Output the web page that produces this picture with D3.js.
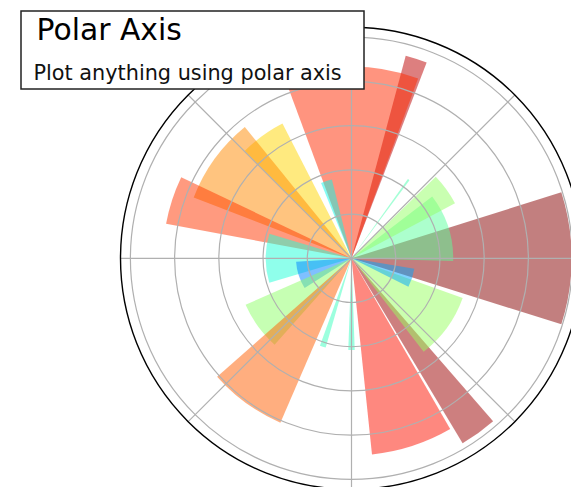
<!DOCTYPE html>
<html>
<head>
<meta charset="utf-8">
<script src="https://cdn.jsdelivr.net/npm/d3@7"></script>
<style>
  html, body { margin: 0; padding: 0; background: #fff; overflow: hidden; }
  svg { display: block; }
</style>
</head>
<body>
<svg id="chart" width="571" height="487"></svg>
<script>
// ---- data ----
const N = 20;
const thetaDeg = [0, 18, 36, 54, 72, 90, 108, 126, 144, 162, 180, 198, 216, 234, 252, 270, 288, 306, 324, 342];
const radii = [9.95, 4.6, 5.3, 4.4, 9.48, 8.67, 3.67, 6.85, 7.65, 8.53, 3.88, 2.51, 5.23, 8.1, 4.2, 4.15, 8.92, 9.76, 5.34, 2.88];
const widths = [0.61, 0.68, 0.28, 0.02, 0.105, 0.71, 0.14, 0.31, 0.52, 0.26, 0.58, 0.5, 0.43, 0.44, 0.065, 0.07, 0.42, 0.175, 0.57, 0.30];
const radialTicks = [2, 4, 6, 8, 10];
const angleGridDeg = [0, 45, 90, 135, 180, 225, 270, 315];
const titleText = "Polar Axis";
const subtitleText = "Plot anything using polar axis";

// ---- layout ----
const cx = 351.5, cy = 258.3, R = 231;
const rMax = 1.05 * d3.max(radii);

const svg = d3.select("#chart");
const g = svg.append("g").attr("transform", `translate(${cx},${cy})`);

const r = d3.scaleLinear().domain([0, rMax]).range([0, R]);
// math angle (ccw from east, degrees) -> d3 arc angle (cw from north, radians)
const ang = d3.scaleLinear().domain([0, 360]).range([Math.PI / 2, Math.PI / 2 - 2 * Math.PI]);

// jet colormap (matplotlib segment data)
const jetR = d3.scaleLinear().domain([0, 0.35, 0.66, 0.89, 1]).range([0, 0, 1, 1, 0.5]).clamp(true);
const jetG = d3.scaleLinear().domain([0, 0.125, 0.375, 0.64, 0.91, 1]).range([0, 0, 1, 1, 0, 0]).clamp(true);
const jetB = d3.scaleLinear().domain([0, 0.11, 0.34, 0.65, 1]).range([0.5, 1, 1, 0, 0]).clamp(true);
const jet = v => d3.rgb(jetR(v) * 255, jetG(v) * 255, jetB(v) * 255);
const colorOf = d3.scaleLinear().domain([0, 10]).range([0, 1]);

// white background disc
g.append("circle").attr("r", R).attr("fill", "#fff");

const arc = d3.arc();
const bars = d3.range(N).map(i => ({ t: thetaDeg[i], r: radii[i], w: widths[i] * 180 / Math.PI }));

g.selectAll("path.bar").data(bars).enter().append("path")
  .attr("class", "bar")
  .attr("d", d => arc({
    innerRadius: 0,
    outerRadius: r(d.r),
    startAngle: ang(d.t + d.w / 2),
    endAngle: ang(d.t - d.w / 2)
  }))
  .attr("fill", d => jet(colorOf(d.r)))
  .attr("fill-opacity", 0.5)
  .attr("stroke", "none");

// grid (above bars)
g.selectAll("circle.grid").data(radialTicks).enter().append("circle")
  .attr("class", "grid")
  .attr("r", d => r(d))
  .attr("fill", "none")
  .attr("stroke", "#b0b0b0")
  .attr("stroke-width", 1.2);

g.selectAll("line.grid").data(angleGridDeg).enter().append("line")
  .attr("class", "grid")
  .attr("x1", 0).attr("y1", 0)
  .attr("x2", d => R * Math.sin(ang(d)))
  .attr("y2", d => -R * Math.cos(ang(d)))
  .attr("stroke", "#b0b0b0")
  .attr("stroke-width", 1.2);

// outer spine
g.append("circle").attr("r", R).attr("fill", "none").attr("stroke", "#000").attr("stroke-width", 1.4);

// title box
svg.append("rect")
  .attr("x", 21).attr("y", 11).attr("width", 343).attr("height", 78)
  .attr("fill", "#fff").attr("stroke", "#222").attr("stroke-width", 1.5);
svg.append("text")
  .attr("x", 36.5).attr("y", 40)
  .attr("font-family", "DejaVu Sans")
  .attr("font-size", 29.8)
  .attr("fill", "#000")
  .text(titleText);
svg.append("text")
  .attr("x", 33.5).attr("y", 80)
  .attr("font-family", "DejaVu Sans")
  .attr("font-size", 20.8)
  .attr("fill", "#111")
  .text(subtitleText);
</script>
</body>
</html>
